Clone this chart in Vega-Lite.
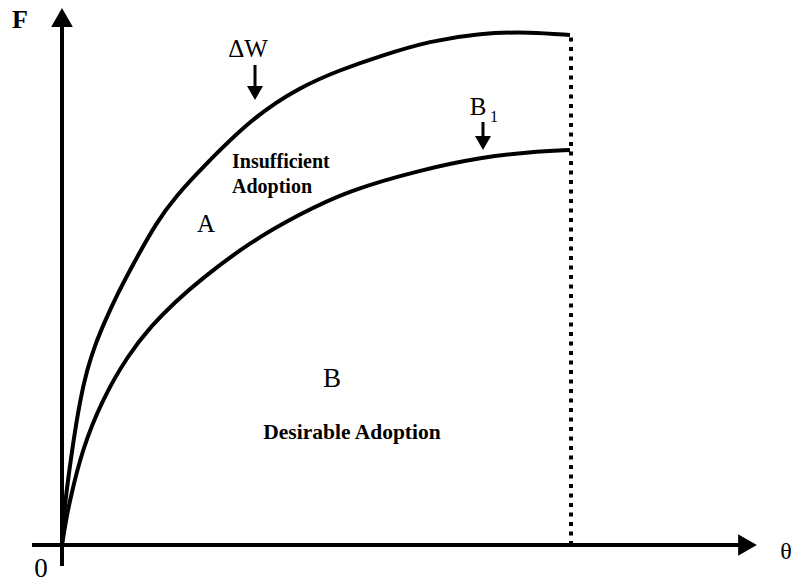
{
  "$schema": "https://vega.github.io/schema/vega-lite/v6.json",
  "width": 793,
  "height": 582,
  "autosize": {"type": "none"},
  "padding": 0,
  "background": "white",
  "config": {"view": {"stroke": null}},
  "datasets": {
    "curves": [
      {"curve": "ΔW", "theta": 0, "F": 0}, {"curve": "ΔW", "theta": 1.5, "F": 25}, {"curve": "ΔW", "theta": 4, "F": 50},
      {"curve": "ΔW", "theta": 10, "F": 95}, {"curve": "ΔW", "theta": 18, "F": 145}, {"curve": "ΔW", "theta": 25, "F": 175},
      {"curve": "ΔW", "theta": 33, "F": 200}, {"curve": "ΔW", "theta": 43, "F": 224}, {"curve": "ΔW", "theta": 55, "F": 250},
      {"curve": "ΔW", "theta": 68, "F": 275}, {"curve": "ΔW", "theta": 95, "F": 324}, {"curve": "ΔW", "theta": 115, "F": 350},
      {"curve": "ΔW", "theta": 138, "F": 375}, {"curve": "ΔW", "theta": 191, "F": 428},
      {"curve": "ΔW", "theta": 238, "F": 458}, {"curve": "ΔW", "theta": 278, "F": 475}, {"curve": "ΔW", "theta": 318, "F": 489},
      {"curve": "ΔW", "theta": 368, "F": 504},
      {"curve": "ΔW", "theta": 418, "F": 512}, {"curve": "ΔW", "theta": 468, "F": 513}, {"curve": "ΔW", "theta": 508, "F": 510},
      {"curve": "B1", "theta": 0, "F": 0}, {"curve": "B1", "theta": 4, "F": 25}, {"curve": "B1", "theta": 8, "F": 45},
      {"curve": "B1", "theta": 20, "F": 95}, {"curve": "B1", "theta": 40, "F": 145}, {"curve": "B1", "theta": 66, "F": 190},
      {"curve": "B1", "theta": 90, "F": 220}, {"curve": "B1", "theta": 113, "F": 243}, {"curve": "B1", "theta": 138, "F": 265},
      {"curve": "B1", "theta": 188, "F": 303}, {"curve": "B1", "theta": 238, "F": 331}, {"curve": "B1", "theta": 285, "F": 354},
      {"curve": "B1", "theta": 358, "F": 375}, {"curve": "B1", "theta": 421, "F": 388}, {"curve": "B1", "theta": 468, "F": 393},
      {"curve": "B1", "theta": 508, "F": 395}
    ],
    "axes": [
      {"axis": "theta", "x": -30, "x2": 680, "y": 0, "y2": 0},
      {"axis": "F", "x": 0, "x2": 0, "y": -21, "y2": 522}
    ],
    "heads": [
      {"dir": "up", "x": 0, "y": 527.5},
      {"dir": "right", "x": 685.5, "y": 0}
    ],
    "bound": [{"x": 509, "y": 0, "y2": 510}],
    "pointers": [
      {"label": "ΔW", "x": 193, "y": 480, "y2": 457, "tip": 452},
      {"label": "B1", "x": 421, "y": 423, "y2": 407, "tip": 402}
    ],
    "labels": [
      {"kind": "big", "text": "ΔW", "x": 186, "y": 488},
      {"kind": "big", "text": "B", "x": 416, "y": 430},
      {"kind": "big", "text": "A", "x": 144, "y": 313},
      {"kind": "region", "text": "B", "x": 270, "y": 158},
      {"kind": "region", "text": "0", "x": -21, "y": -32},
      {"kind": "theta", "text": "θ", "x": 724, "y": -14},
      {"kind": "sub", "text": "1", "x": 432, "y": 423},
      {"kind": "axisF", "text": "F", "x": -42, "y": 517},
      {"kind": "boldLeft", "text": "Insufficient", "x": 170, "y": 377},
      {"kind": "boldLeft", "text": "Adoption", "x": 170, "y": 352},
      {"kind": "boldCenter", "text": "Desirable Adoption", "x": 290, "y": 106}
    ]
  },
  "encoding": {},
  "layer": [
    {
      "data": {"name": "axes"},
      "mark": {"type": "rule", "color": "black", "strokeWidth": 4},
      "encoding": {
        "x": {"field": "x", "type": "quantitative", "scale": {"domain": [-62, 731], "nice": false, "zero": false}, "axis": null},
        "x2": {"field": "x2"},
        "y": {"field": "y", "type": "quantitative", "scale": {"domain": [-37, 545], "nice": false, "zero": false}, "axis": null},
        "y2": {"field": "y2"}
      }
    },
    {
      "data": {"name": "heads"},
      "mark": {"type": "point", "filled": true, "color": "black", "opacity": 1, "size": 470, "strokeWidth": 0},
      "encoding": {
        "x": {"field": "x", "type": "quantitative"},
        "y": {"field": "y", "type": "quantitative"},
        "shape": {"field": "dir", "type": "nominal", "scale": {"domain": ["up", "right"], "range": ["triangle-up", "triangle-right"]}, "legend": null}
      }
    },
    {
      "data": {"name": "bound"},
      "mark": {"type": "rule", "color": "black", "strokeWidth": 4, "strokeDash": [4, 5.5]},
      "encoding": {
        "x": {"field": "x", "type": "quantitative"},
        "y": {"field": "y", "type": "quantitative"},
        "y2": {"field": "y2"}
      }
    },
    {
      "data": {"name": "curves"},
      "mark": {"type": "line", "color": "black", "strokeWidth": 4, "interpolate": "basis"},
      "encoding": {
        "x": {"field": "theta", "type": "quantitative"},
        "y": {"field": "F", "type": "quantitative"},
        "detail": {"field": "curve", "type": "nominal"}
      }
    },
    {
      "data": {"name": "pointers"},
      "mark": {"type": "rule", "color": "black", "strokeWidth": 3},
      "encoding": {
        "x": {"field": "x", "type": "quantitative"},
        "y": {"field": "y", "type": "quantitative"},
        "y2": {"field": "y2"}
      }
    },
    {
      "data": {"name": "pointers"},
      "mark": {"type": "point", "shape": "triangle-down", "filled": true, "color": "black", "opacity": 1, "size": 256, "strokeWidth": 0},
      "encoding": {
        "x": {"field": "x", "type": "quantitative"},
        "y": {"field": "tip", "type": "quantitative"}
      }
    },
    {
      "data": {"name": "labels"},
      "transform": [{"filter": "datum.kind === 'big'"}],
      "mark": {"type": "text", "font": "Liberation Serif", "fontSize": 25, "align": "center", "baseline": "alphabetic", "fill": "black"},
      "encoding": {
        "x": {"field": "x", "type": "quantitative"},
        "y": {"field": "y", "type": "quantitative"},
        "text": {"field": "text"}
      }
    },
    {
      "data": {"name": "labels"},
      "transform": [{"filter": "datum.kind === 'region'"}],
      "mark": {"type": "text", "font": "Liberation Serif", "fontSize": 27, "align": "center", "baseline": "alphabetic", "fill": "black"},
      "encoding": {
        "x": {"field": "x", "type": "quantitative"},
        "y": {"field": "y", "type": "quantitative"},
        "text": {"field": "text"}
      }
    },
    {
      "data": {"name": "labels"},
      "transform": [{"filter": "datum.kind === 'theta'"}],
      "mark": {"type": "text", "font": "Liberation Serif", "fontSize": 24, "align": "center", "baseline": "alphabetic", "fill": "black"},
      "encoding": {
        "x": {"field": "x", "type": "quantitative"},
        "y": {"field": "y", "type": "quantitative"},
        "text": {"field": "text"}
      }
    },
    {
      "data": {"name": "labels"},
      "transform": [{"filter": "datum.kind === 'sub'"}],
      "mark": {"type": "text", "font": "Liberation Serif", "fontSize": 16, "align": "center", "baseline": "alphabetic", "fill": "black"},
      "encoding": {
        "x": {"field": "x", "type": "quantitative"},
        "y": {"field": "y", "type": "quantitative"},
        "text": {"field": "text"}
      }
    },
    {
      "data": {"name": "labels"},
      "transform": [{"filter": "datum.kind === 'axisF'"}],
      "mark": {"type": "text", "font": "Liberation Serif", "fontSize": 26, "fontWeight": "bold", "align": "center", "baseline": "alphabetic", "fill": "black"},
      "encoding": {
        "x": {"field": "x", "type": "quantitative"},
        "y": {"field": "y", "type": "quantitative"},
        "text": {"field": "text"}
      }
    },
    {
      "data": {"name": "labels"},
      "transform": [{"filter": "datum.kind === 'boldLeft'"}],
      "mark": {"type": "text", "font": "Liberation Serif", "fontSize": 20, "fontWeight": "bold", "align": "left", "baseline": "alphabetic", "fill": "black"},
      "encoding": {
        "x": {"field": "x", "type": "quantitative"},
        "y": {"field": "y", "type": "quantitative"},
        "text": {"field": "text"}
      }
    },
    {
      "data": {"name": "labels"},
      "transform": [{"filter": "datum.kind === 'boldCenter'"}],
      "mark": {"type": "text", "font": "Liberation Serif", "fontSize": 21.5, "fontWeight": "bold", "align": "center", "baseline": "alphabetic", "fill": "black"},
      "encoding": {
        "x": {"field": "x", "type": "quantitative"},
        "y": {"field": "y", "type": "quantitative"},
        "text": {"field": "text"}
      }
    }
  ]
}
